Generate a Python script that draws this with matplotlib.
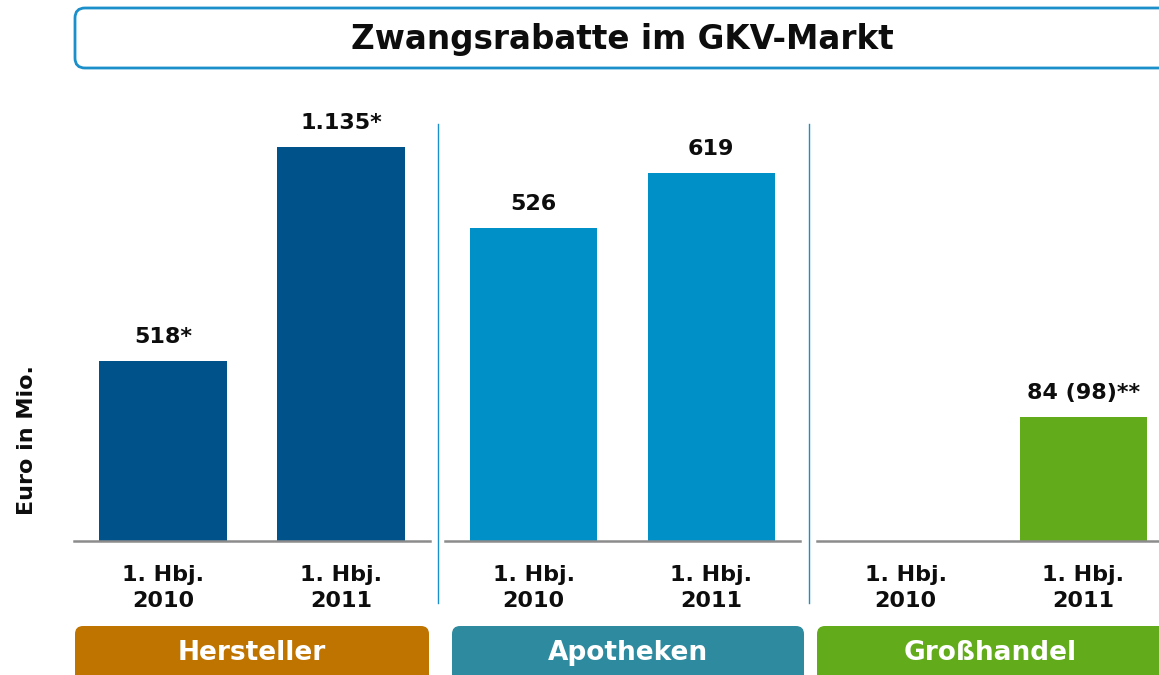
import matplotlib.pyplot as plt
from matplotlib.patches import FancyBboxPatch
from matplotlib.lines import Line2D

# data
groups = ['Hersteller', 'Apotheken', 'Großhandel']
periods = ['1. Hbj.\n2010', '1. Hbj.\n2011']
values = [[518, 1135], [526, 619], [0, 84]]
labels = [['518*', '1.135*'], ['526', '619'], ['', '84 (98)**']]
# each panel in the original has its own scale (pixels per unit)
px_per_unit = [0.3475, 0.595, 1.476]

bar_colors = ['#00538a', '#0090c8', '#62ab1a']
box_colors = ['#c07400', '#2e8a9e', '#62ab1a']
line_blue = '#1a8fc9'
ink = '#0d0d0d'

W, H = 1159, 675
plt.rcParams['font.family'] = 'DejaVu Sans'
fig = plt.figure(figsize=(W / 100, H / 100), dpi=100)


def fx(x):
    return x / W


def fy(y):
    return 1 - y / H


baseline = 541
top = 90
panel_x = [(74, 356), (445, 355), (817, 355)]

for i, (x0, w) in enumerate(panel_x):
    ax = fig.add_axes([fx(x0), fy(baseline), w / W, (baseline - top) / H])
    ax.bar([0, 1], values[i], width=0.714, color=bar_colors[i])
    ax.set_xlim(-0.5, 1.5)
    ax.set_ylim(0, (baseline - top) / px_per_unit[i])
    for s in ['top', 'right', 'left']:
        ax.spines[s].set_visible(False)
    ax.spines['bottom'].set_color('#8c8c8c')
    ax.spines['bottom'].set_linewidth(1.8)
    ax.set_xticks([])
    ax.set_yticks([])
    ax.patch.set_alpha(0)
    for j in range(2):
        if labels[i][j]:
            ax.annotate(labels[i][j], (j, values[i][j]), xytext=(0, 10),
                        textcoords='offset points', ha='center', va='bottom',
                        fontsize=16, fontweight='bold', color=ink)
        ax.annotate(periods[j], (j, 0),
                    xycoords=('data', 'axes fraction'), xytext=(0, -17),
                    textcoords='offset points', ha='center', va='top',
                    fontsize=16, fontweight='bold', color=ink,
                    linespacing=1.4)

# separators between panels
for sx in [438, 809]:
    fig.add_artist(Line2D([fx(sx), fx(sx)], [fy(124), fy(603)],
                          transform=fig.transFigure, color=line_blue, lw=1))

# title box
tb = FancyBboxPatch((75 / 100, (H - 68) / 100), 1120 / 100, 60 / 100,
                    boxstyle='round,pad=0,rounding_size=0.1',
                    transform=fig.dpi_scale_trans, facecolor='white',
                    edgecolor=line_blue, lw=2)
fig.add_artist(tb)
fig.text(fx(622), fy(40), 'Zwangsrabatte im GKV-Markt', ha='center',
         va='center', fontsize=23.5, fontweight='bold', color=ink)

# category boxes
box_x = [(75, 354), (452, 352), (817, 400)]
for i, (bx, bw) in enumerate(box_x):
    p = FancyBboxPatch((bx / 100, (H - 690) / 100), bw / 100, 64 / 100,
                       boxstyle='round,pad=0,rounding_size=0.08',
                       transform=fig.dpi_scale_trans,
                       facecolor=box_colors[i], edgecolor='none')
    fig.add_artist(p)
    cx = bx + bw / 2 if i < 2 else 990
    fig.text(fx(cx), fy(653), groups[i], ha='center', va='center',
             fontsize=19, fontweight='bold', color='white')

fig.text(fx(27), fy(440), 'Euro in Mio.', rotation=90, ha='center',
         va='center', fontsize=16, fontweight='bold', color=ink)

fig.savefig('out.png', dpi=100)
